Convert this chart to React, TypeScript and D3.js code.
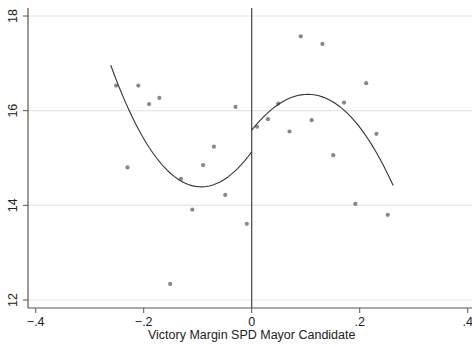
import * as d3 from "d3";

// binned scatter (victory margin, outcome)
const marginX = [
  -0.251, -0.23, -0.21, -0.19, -0.171, -0.151, -0.131, -0.11, -0.09, -0.07, -0.049, -0.03, -0.009,
  0.01, 0.03, 0.049, 0.07, 0.091, 0.111, 0.131, 0.151, 0.171, 0.192, 0.212, 0.231, 0.252,
];
const outcomeY = [
  16.53, 14.8, 16.53, 16.14, 16.27, 12.34, 14.56, 13.91, 14.85, 15.24, 14.22, 16.08, 13.61,
  15.66, 15.82, 16.15, 15.56, 17.57, 15.8, 17.41, 15.06, 16.17, 14.03, 16.58, 15.51, 13.8,
];

// fitted polynomial, left and right of the cutoff
const leftFitX = [-0.261, -0.232, -0.207, -0.182, -0.157, -0.127, -0.096, -0.065, -0.034, 0];
const leftFitY = [16.93, 16.19, 15.56, 15.06, 14.71, 14.5, 14.41, 14.47, 14.68, 15.13];
const rightFitX = [0, 0.019, 0.049, 0.08, 0.111, 0.142, 0.173, 0.204, 0.234, 0.262];
const rightFitY = [15.56, 15.87, 16.16, 16.28, 16.32, 16.23, 16.01, 15.59, 15.06, 14.41];

const xTicks = [-0.4, -0.2, 0, 0.2, 0.4];
const yTicks = [12, 14, 16, 18];
const xTitle = "Victory Margin SPD Mayor Candidate";

const W = 472;
const H = 347;
const font = "'Liberation Sans', Arial, sans-serif";

// least squares polynomial, so the fit line comes out smooth
function polyfit(xs: number[], ys: number[], deg: number) {
  const n = deg + 1;
  const A = Array.from({ length: n }, () => new Array(n + 1).fill(0));
  xs.forEach((xv, k) => {
    for (let i = 0; i < n; i++) {
      for (let j = 0; j < n; j++) A[i][j] += Math.pow(xv, i + j);
      A[i][n] += ys[k] * Math.pow(xv, i);
    }
  });
  for (let c = 0; c < n; c++) {
    let p = c;
    for (let r = c + 1; r < n; r++) if (Math.abs(A[r][c]) > Math.abs(A[p][c])) p = r;
    [A[c], A[p]] = [A[p], A[c]];
    for (let r = 0; r < n; r++) {
      if (r === c) continue;
      const f = A[r][c] / A[c][c];
      for (let k = c; k <= n; k++) A[r][k] -= f * A[c][k];
    }
  }
  const coef = A.map((row, i) => row[n] / row[i]);
  return (v: number) => coef.reduce((s, c, i) => s + c * Math.pow(v, i), 0);
}

function fitPoints(xs: number[], ys: number[]) {
  const f = polyfit(xs, ys, 3);
  const [a, b] = d3.extent(xs) as [number, number];
  return d3.range(41).map((i) => {
    const v = a + ((b - a) * i) / 40;
    return [v, f(v)] as [number, number];
  });
}

export default function App() {
  const x = d3.scaleLinear().domain([-0.4, 0.4]).range([35.7, 467.7]);
  const y = d3.scaleLinear().domain([12, 18]).range([300, 16]);
  const left = 28;
  const bottom = 308;
  const top = 8;

  const line = d3
    .line<[number, number]>()
    .x((d) => x(d[0]))
    .y((d) => y(d[1]));

  const leftPts = fitPoints(leftFitX, leftFitY);
  const rightPts = fitPoints(rightFitX, rightFitY);

  const fmt = (v: number) => (v === 0 ? "0" : d3.format(".1f")(v).replace("0.", "."));

  return (
    <svg
      width={W}
      height={H}
      style={{ position: "absolute", left: 0, top: 0, background: "#fff" }}
      fontFamily={font}
    >
      {/* gridlines */}
      {yTicks.map((t) => (
        <line key={"g" + t} x1={left} x2={W} y1={y(t)} y2={y(t)} stroke="#e6e6e6" strokeWidth={1.2} />
      ))}

      {/* y axis */}
      <line x1={left} x2={left} y1={top} y2={bottom} stroke="#555" strokeWidth={1.2} />
      {yTicks.map((t) => (
        <g key={"y" + t}>
          <line x1={left - 5} x2={left} y1={y(t)} y2={y(t)} stroke="#555" />
          <text
            transform={`translate(16.5,${y(t)}) rotate(-90)`}
            textAnchor="middle"
            fontSize={12.5}
            fill="#222"
          >
            {t}
          </text>
        </g>
      ))}

      {/* x axis */}
      <line x1={left} x2={W} y1={bottom} y2={bottom} stroke="#555" strokeWidth={1.2} />
      {xTicks.map((t) => (
        <g key={"x" + t}>
          <line x1={x(t)} x2={x(t)} y1={bottom} y2={bottom + 5} stroke="#555" />
          <text x={x(t)} y={bottom + 18} textAnchor="middle" fontSize={12.5} fill="#222">
            {fmt(t)}
          </text>
        </g>
      ))}
      <text x={x(0)} y={339} textAnchor="middle" fontSize={12.5} fill="#222">
        {xTitle}
      </text>

      {/* cutoff */}
      <line x1={x(0)} x2={x(0)} y1={top} y2={bottom} stroke="#444" strokeWidth={1.2} />

      {/* points */}
      {marginX.map((v, i) => (
        <circle key={"p" + i} cx={x(v)} cy={y(outcomeY[i])} r={2.1} fill="#888" />
      ))}

      {/* fits */}
      <path d={line(leftPts) ?? ""} fill="none" stroke="#333" strokeWidth={1.1} />
      <path d={line(rightPts) ?? ""} fill="none" stroke="#333" strokeWidth={1.1} />
    </svg>
  );
}
